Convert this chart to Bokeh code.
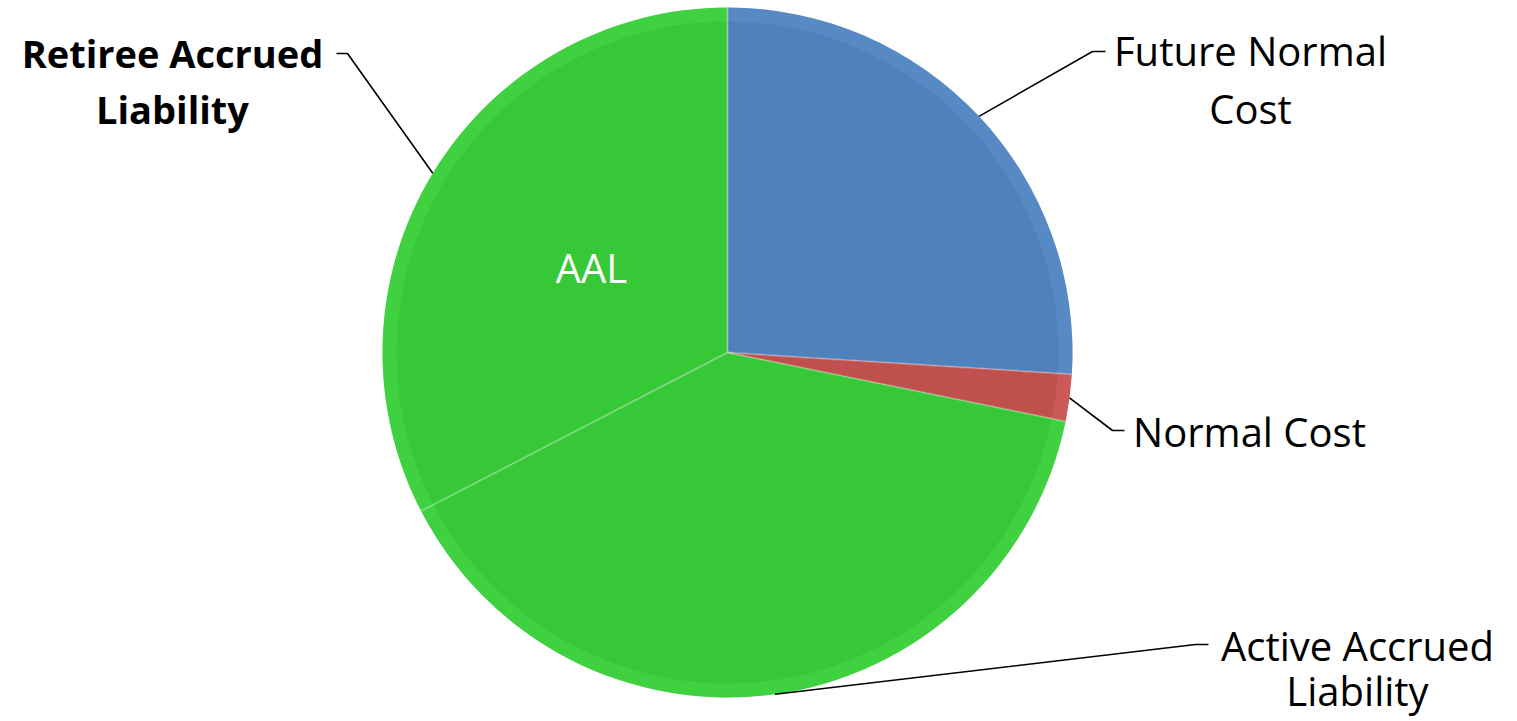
import numpy as np
from bokeh.plotting import figure
from bokeh.models import Range1d, ColumnDataSource
from bokeh.core.properties import value
from bokeh.embed import file_html
from bokeh.resources import INLINE

# ---- data ----
categories = ["Future Normal Cost", "Normal Cost", "Active Accrued Liability", "Retiree Accrued Liability"]
shares = [26.0, 2.2, 39.2, 32.6]
slice_colors = ["#4F81BD", "#C0504D", "#36C836", "#36C836"]
label_lines = [["Future Normal", "Cost"], ["Normal Cost"], ["Active Accrued", "Liability"], ["Retiree Accrued", "Liability"]]
label_bold = [False, False, False, True]
inner_label = "AAL"

# ---- layout (pixel coordinates, y measured from top) ----
W, H = 1517, 721
CX, CY, R = 727, 352, 345
FONT = "Open Sans"
FSIZE = "40px"
BOLD_SIZE = "38px"

def fy(y):
    return H - y

# leader elbows / ends and label anchors (pixel coords from top)
elbows = [(1092, 51), (1112, 430), (1195, 644), (347, 53)]
ends = [(1105, 51), (1124, 430), (1208, 644), (336, 53)]
label_x = [1250, 1249, 1357, 172]
label_base = [[50, 108], [431], [645, 690], [52, 108]]
inner_pos = (591, 267)

p = figure(width=W, height=H, x_range=Range1d(0, W), y_range=Range1d(0, H),
           x_axis_type=None, y_axis_type=None, toolbar_location=None,
           output_backend="svg", min_border=0, background_fill_color="white",
           border_fill_color="white")
p.outline_line_color = None
p.grid.visible = False

total = float(sum(shares))
frac = np.array(shares) / total
cum = np.concatenate([[0.0], np.cumsum(frac)])
start = np.pi / 2 - cum[1:] * 2 * np.pi
end = np.pi / 2 - cum[:-1] * 2 * np.pi
mid = (start + end) / 2

src = ColumnDataSource(dict(cat=categories, start=start, end=end, color=slice_colors))
p.wedge(x=CX, y=fy(CY), radius=R, start_angle="start", end_angle="end",
        fill_color="color", line_color=None, source=src)

# bevel-like rim highlight
rim_colors = ["#6A9AD6", "#E07270", "#55E855", "#55E855"]
p.annular_wedge(x=CX, y=fy(CY), inner_radius=R - 14, outer_radius=R,
                start_angle=start, end_angle=end, fill_color=rim_colors,
                fill_alpha=0.3, line_color=None)
# slice boundary highlights
for a in start:
    p.line([CX, CX + R * np.cos(a)], [fy(CY), fy(CY) + R * np.sin(a)],
           line_color="#FFFFFF", line_alpha=0.25, line_width=2)

# leader lines
for i in range(len(categories)):
    sx = CX + R * np.cos(mid[i])
    sy = fy(CY) + R * np.sin(mid[i])
    ex, ey = elbows[i]
    tx, ty = ends[i]
    p.line([sx, ex, tx], [sy, fy(ey), fy(ty)], line_color="black", line_width=1.6)

# labels
for i in range(len(categories)):
    for j, line in enumerate(label_lines[i]):
        p.text(x=[label_x[i]], y=[fy(label_base[i][j])], text=[line],
               text_font=value(FONT),
               text_font_size=BOLD_SIZE if label_bold[i] else FSIZE,
               text_font_style="bold" if label_bold[i] else "normal",
               text_align="center", text_baseline="alphabetic", text_color="black")

p.text(x=[inner_pos[0]], y=[fy(inner_pos[1])], text=[inner_label],
       text_font=value(FONT), text_font_size=FSIZE, text_align="center",
       text_baseline="alphabetic", text_color="white")

open("out.html", "w").write(file_html(p, INLINE))
